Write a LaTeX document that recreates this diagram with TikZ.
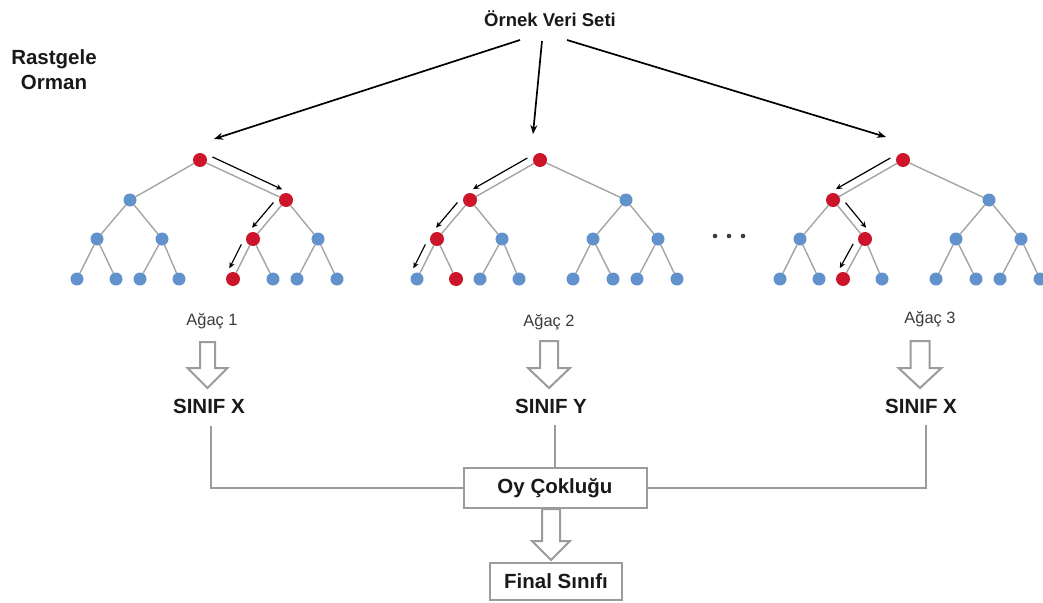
\documentclass[tikz,border=0pt]{standalone}
\usepackage{fontspec}
\setmainfont{Liberation Sans}
\usetikzlibrary{calc,arrows.meta}

\definecolor{nodeRed}{RGB}{204,20,42}
\definecolor{nodeBlue}{RGB}{98,146,203}
\definecolor{branchGray}{RGB}{165,165,165}
\definecolor{frameGray}{RGB}{155,155,155}
\definecolor{inkGray}{RGB}{60,60,60}
\definecolor{ink}{RGB}{25,25,25}

\tikzset{
  leafdot/.style={circle,inner sep=0pt,outer sep=0pt,minimum size=13pt,fill=nodeBlue},
  hot/.style={fill=nodeRed,minimum size=14pt},
  branch/.style={draw=branchGray,line width=1.4pt},
  walk/.style={draw=black,line width=1.2pt,-{Stealth[length=6pt,width=5.5pt]}},
  feed/.style={draw=black,line width=1.7pt,-{Stealth[length=9pt,width=7pt]}},
  hollow/.style={draw=frameGray,line width=2pt,fill=white,line join=miter},
  link/.style={draw=frameGray,line width=2pt},
  votebox/.style={draw=frameGray,line width=2pt,inner sep=0pt,text=ink,
    font=\fontsize{20.5}{24}\selectfont\bfseries},
  classtext/.style={inner sep=0pt,text=ink,font=\fontsize{20.5}{24}\selectfont\bfseries},
  caption/.style={inner sep=0pt,text=inkGray,font=\fontsize{16.4}{20}\selectfont},
  % per-position styles of a tree, overridden for the highlighted path
  n-r/.style={},n-L/.style={},n-R/.style={},
  n-LL/.style={},n-LR/.style={},n-RL/.style={},n-RR/.style={},
  n-LLL/.style={},n-LLR/.style={},n-LRL/.style={},n-LRR/.style={},
  n-RLL/.style={},n-RLR/.style={},n-RRL/.style={},n-RRR/.style={},
}

% binary tree of depth 3 whose root sits at x = #2
\newcommand\maketree[2]{%
  \node[leafdot,n-r]   (#1-r)   at (#2,160) {};
  \node[leafdot,n-L]   (#1-L)   at (#2-70,200) {};
  \node[leafdot,n-R]   (#1-R)   at (#2+86,200) {};
  \node[leafdot,n-LL]  (#1-LL)  at (#2-103,239) {};
  \node[leafdot,n-LR]  (#1-LR)  at (#2-38,239) {};
  \node[leafdot,n-RL]  (#1-RL)  at (#2+53,239) {};
  \node[leafdot,n-RR]  (#1-RR)  at (#2+118,239) {};
  \node[leafdot,n-LLL] (#1-LLL) at (#2-123,279) {};
  \node[leafdot,n-LLR] (#1-LLR) at (#2-84,279) {};
  \node[leafdot,n-LRL] (#1-LRL) at (#2-60,279) {};
  \node[leafdot,n-LRR] (#1-LRR) at (#2-21,279) {};
  \node[leafdot,n-RLL] (#1-RLL) at (#2+33,279) {};
  \node[leafdot,n-RLR] (#1-RLR) at (#2+73,279) {};
  \node[leafdot,n-RRL] (#1-RRL) at (#2+97,279) {};
  \node[leafdot,n-RRR] (#1-RRR) at (#2+137,279) {};
  \foreach \a/\b in {r/L,r/R,L/LL,L/LR,R/RL,R/RR,LL/LLL,LL/LLR,LR/LRL,LR/LRR,
                     RL/RLL,RL/RLR,RR/RRL,RR/RRR}
    \draw[branch] (#1-\a) -- (#1-\b);
}

% arrow running beside a branch, offset to one side
\newcommand\walk[4]{%
  \draw[walk] ($(#1)!10pt!(#2)!8pt!#3:(#2)$) -- ($(#2)!8pt!(#1)!8pt!#4:(#1)$);}

% hollow downward block arrow: x, top, head base, tip, half shaft, half head
\newcommand\hollowdown[6]{%
  \draw[hollow] (#1-#5,#2) -- (#1+#5,#2) -- (#1+#5,#3) -- (#1+#6,#3)
    -- (#1,#4) -- (#1-#6,#3) -- (#1-#5,#3) -- cycle;}

\begin{document}
\begin{tikzpicture}[x=1pt,y=-1pt]
  \fill[white] (0,0) rectangle (1043,602);
  \useasboundingbox (0,0) rectangle (1043,602);

  % headings
  \node[classtext,font=\fontsize{18.5}{22}\selectfont\bfseries] (title) at (550,19) {Örnek Veri Seti};
  \node[classtext,align=center,font=\fontsize{20.5}{25}\selectfont\bfseries] (forest) at (54,70) {Rastgele\\Orman};

  % the three trees
  \begin{scope}[n-r/.style=hot,n-R/.style=hot,n-RL/.style=hot,n-RLL/.style=hot]
    \maketree{ta}{200}
  \end{scope}
  \begin{scope}[n-r/.style=hot,n-L/.style=hot,n-LL/.style=hot,n-LLR/.style=hot]
    \maketree{tb}{540}
  \end{scope}
  \begin{scope}[n-r/.style=hot,n-L/.style=hot,n-LR/.style=hot,n-LRL/.style=hot]
    \maketree{tc}{903}
  \end{scope}

  % decision paths
  \walk{ta-r}{ta-R}{90}{-90}
  \walk{ta-R}{ta-RL}{-90}{90}
  \walk{ta-RL}{ta-RLL}{-90}{90}
  \walk{tb-r}{tb-L}{-90}{90}
  \walk{tb-L}{tb-LL}{-90}{90}
  \walk{tb-LL}{tb-LLL}{-90}{90}
  \walk{tc-r}{tc-L}{-90}{90}
  \walk{tc-L}{tc-LR}{90}{-90}
  \walk{tc-LR}{tc-LRL}{-90}{90}

  % more trees
  \foreach \x in {715,729,743} \fill[inkGray] (\x,236) circle (2.3pt);

  % sampling arrows
  \coordinate (s1) at (520,40);
  \coordinate (s2) at (542,41);
  \coordinate (s3) at (567,40);
  \coordinate (e1) at (214,139);
  \coordinate (e2) at (533,134);
  \coordinate (e3) at (886,137);
  \draw[feed] (s1) -- (e1);
  \draw[feed] (s2) -- (e2);
  \draw[feed] (s3) -- (e3);

  % tree captions and predictions
  \node[caption] (ag1) at (212,321) {Ağaç 1};
  \node[caption] (ag2) at (549,322) {Ağaç 2};
  \node[caption] (ag3) at (930,319) {Ağaç 3};

  \hollowdown{207.5}{342}{368}{388}{7.5}{20}
  \hollowdown{549}{341}{368}{388}{9}{21}
  \hollowdown{920}{341}{368}{388}{9.5}{21.5}

  \node[classtext] (c1) at (209,406) {SINIF X};
  \node[classtext] (c2) at (551,406) {SINIF Y};
  \node[classtext] (c3) at (921,406) {SINIF X};

  % voting
  \node[votebox,minimum width=183pt,minimum height=40pt] (vote) at (555,488) {Oy Çokluğu};
  \node[votebox,minimum width=132pt,minimum height=37pt] (final) at (556,581) {Final Sınıfı};

  \draw[link] (c1.south) ++(2,13) |- (vote.west);
  \draw[link] (vote.north |- c2.south) ++(0,12) -- (vote.north);
  \draw[link] (c3.south) ++(5,12) |- (vote.east);

  \hollowdown{551}{509}{541}{560}{9}{19}
\end{tikzpicture}
\end{document}
